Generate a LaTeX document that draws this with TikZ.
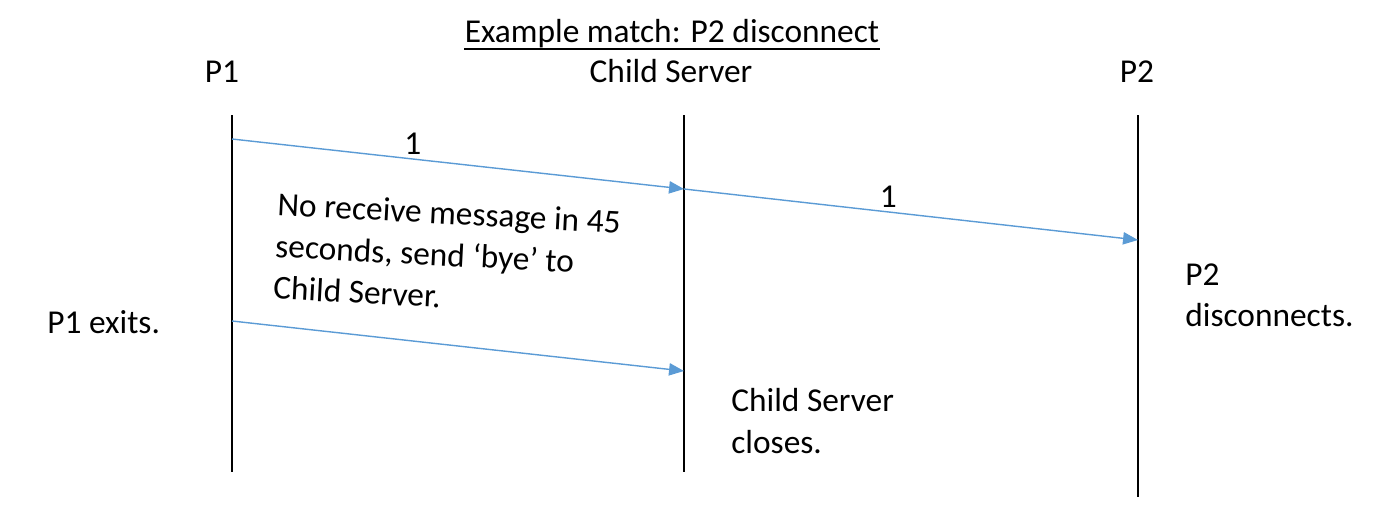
\documentclass[tikz,border=0pt]{standalone}
\usepackage{fontspec}
\setmainfont{Carlito}
\usetikzlibrary{arrows.meta}
\definecolor{msgblue}{HTML}{5B9BD5}

\begin{document}
\begin{tikzpicture}[x = 0.02cm, y = -0.02cm,
   every node/.style = {font = \fontsize{19}{23.8}\selectfont, inner sep = 0pt, text = black},
   lifeline/.style = {line width = 0.8pt, black},
   msg/.style = {line width = 0.8pt, msgblue, -{Triangle[length = 8.5pt, width = 7pt]}},
   note/.style = {align = left, anchor = north west}]
\useasboundingbox (0,0) rectangle (1394,518);

\node[anchor = base] (title) at (672,42) {Example match: P2 disconnect};
\draw[line width = 1pt] ([yshift = -4pt]title.base west) -- ([yshift = -4pt]title.base east);

\node[anchor = base] (p1) at (222,82) {P1};
\node[anchor = base] (cs) at (671,82) {Child Server};
\node[anchor = base] (p2) at (1137,82) {P2};

\foreach \name/\x/\bot in {p1/232/472, cs/684/472, p2/1138/497}{
   \coordinate (\name top) at (\x,115);
   \coordinate (\name bot) at (\x,\bot);
   \draw[lifeline] (\name top) -- (\name bot);
   }

\coordinate (p1out) at (232,139);
\coordinate (csin) at (684,189);
\coordinate (p2in) at (1138,240);
\coordinate (p1bye) at (232,321);
\coordinate (csbye) at (684,371);

\draw[msg] (p1out) -- node[pos = 0.4, above = 2pt] (m1) {1} (csin);
\draw[msg] (csin) -- node[pos = 0.45, above = 2pt] (m2) {1} (p2in);
\draw[msg] (p1bye) -- (csbye);

\node[note, rotate = -3] (timeout) at (278,192) {No receive message in 45\\seconds, send ‘bye’ to\\Child Server.};
\node[anchor = base west] (p1exit) at (47,333) {P1 exits.};
\node[note] (csclose) at (731,388) {Child Server\\closes.};
\node[note] (p2disc) at (1185,263) {P2\\disconnects.};
\end{tikzpicture}
\end{document}
